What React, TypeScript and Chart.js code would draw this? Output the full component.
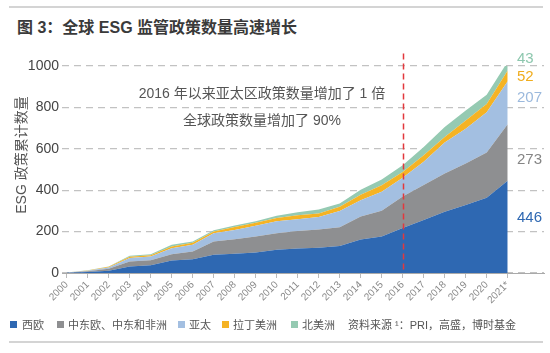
import React, { useEffect, useRef } from 'react';
import { Chart, registerables } from 'chart.js';

Chart.register(...registerables);

const years = [2000, 2001, 2002, 2003, 2004, 2005, 2006, 2007, 2008, 2009, 2010, 2011, 2012, 2013, 2014, 2015, 2016, 2017, 2018, 2019, 2020, 2021];
const tickLabels = ['2000', '2001', '2002', '2003', '2004', '2005', '2006', '2007', '2008', '2009', '2010', '2011', '2012', '2013', '2014', '2015', '2016', '2017', '2018', '2019', '2020', '2021*'];

const westernEurope = [1, 5, 11, 32, 37, 60, 66, 88, 93, 99, 112, 118, 122, 131, 162, 176, 217, 256, 296, 328, 364, 446];
const ceeMea = [1, 3, 10, 24, 24, 31, 38, 64, 70, 77, 80, 85, 88, 90, 111, 125, 153, 169, 185, 201, 218, 273];
const asiaPacific = [0, 3, 6, 16, 19, 29, 32, 40, 45, 52, 58, 57, 60, 79, 79, 91, 90, 112, 149, 168, 195, 207];
const latinAmerica = [0, 1, 3, 6, 6, 8, 10, 8, 14, 15, 16, 19, 18, 20, 26, 32, 28, 32, 27, 40, 40, 52];
const northAmerica = [1, 1, 2, 5, 4, 8, 6, 7, 7, 7, 10, 15, 19, 16, 24, 28, 33, 40, 48, 48, 44, 43];

const seriesNames = ['西欧', '中东欧、中东和非洲', '亚太', '拉丁美洲', '北美洲'];
const seriesColors = ['#2e68b2', '#8e8f91', '#a3bfe1', '#f5b324', '#95cab2'];
const endLabelColors = ['#2e68b2', '#858585', '#9bb9dd', '#f0ad1e', '#8dc7ae'];
const allSeries = [westernEurope, ceeMea, asiaPacific, latinAmerica, northAmerica];

const annotationLines = ['2016 年以来亚太区政策数量增加了 1 倍', '全球政策数量增加了 90%'];
const titleText = '图 3：全球 ESG 监管政策数量高速增长';
const yTitle = 'ESG 政策累计数量';
const sourceText = '资料来源 ¹：PRI，高盛，博时基金';

const FONT = '"Liberation Sans", "Noto Sans CJK SC", sans-serif';

// y-axis value at which each end label is centred
const endLabelAt = [266, 545, 846, 947, 1034];

const overlayPlugin = {
  id: 'overlay',
  afterDatasetsDraw(chart: any) {
    const { ctx, scales, chartArea } = chart;
    const x = scales.x;
    const y = scales.y;
    ctx.save();
    const px = Math.round(x.getPixelForValue(2016)) + 0.5;
    ctx.strokeStyle = '#e2383d';
    ctx.lineWidth = 1.5;
    ctx.setLineDash([6, 4]);
    ctx.beginPath();
    ctx.moveTo(px, y.getPixelForValue(1060));
    ctx.lineTo(px, chartArea.bottom);
    ctx.stroke();
    ctx.setLineDash([]);

    ctx.font = `14px ${FONT}`;
    ctx.fillStyle = '#555';
    ctx.textAlign = 'center';
    ctx.textBaseline = 'middle';
    const cx = x.getPixelForValue(2009.3);
    ctx.fillText(annotationLines[0], cx, y.getPixelForValue(865));
    ctx.fillText(annotationLines[1], cx, y.getPixelForValue(735));

    ctx.font = `15px ${FONT}`;
    ctx.textAlign = 'left';
    allSeries.forEach((s, i) => {
      ctx.fillStyle = endLabelColors[i];
      ctx.fillText(String(s[s.length - 1]), chartArea.right - 27, y.getPixelForValue(endLabelAt[i]));
    });
    ctx.restore();
  },
};

function ChartCanvas() {
  const ref = useRef<HTMLCanvasElement | null>(null);
  useEffect(() => {
    if (!ref.current) return;
    const xMin = 2000 - 4.7 / 21;
    const xMax = xMin + 482 / 21;
    const chart = new Chart(ref.current, {
      type: 'line',
      data: {
        datasets: allSeries.map((s, i) => ({
          label: seriesNames[i],
          data: s.map((v, j) => ({ x: years[j], y: v })),
          backgroundColor: seriesColors[i],
          borderColor: seriesColors[i],
          borderWidth: 0,
          pointRadius: 0,
          tension: 0,
          fill: i === 0 ? 'origin' : '-1',
          clip: false as any,
        })),
      },
      options: {
        animation: false,
        responsive: false,
        maintainAspectRatio: false,
        layout: { padding: { top: 66, right: 6, left: 0, bottom: 0 } },
        plugins: { legend: { display: false }, tooltip: { enabled: false } },
        scales: {
          x: {
            type: 'linear',
            min: xMin,
            max: xMax,
            afterBuildTicks: (s: any) => {
              s.ticks = years.map((v) => ({ value: v }));
            },
            afterFit: (s: any) => {
              s.height = 80;
            },
            ticks: {
              autoSkip: false,
              maxRotation: 45,
              minRotation: 45,
              padding: 1,
              color: '#888',
              font: { size: 10, family: FONT },
              callback: (_v: any, i: number) => tickLabels[i],
            },
            grid: { drawOnChartArea: false, drawTicks: true, tickLength: 5, color: '#bbb' },
            border: { display: true, color: '#aaa', width: 1 },
          },
          y: {
            stacked: true,
            min: 0,
            max: 1000,
            afterFit: (s: any) => {
              s.width = 62;
            },
            ticks: {
              stepSize: 200,
              padding: 3,
              color: '#444',
              font: { size: 14, family: FONT },
              callback: (v: any) => String(v),
            },
            grid: { drawTicks: false, color: '#c2c2c2', lineWidth: 1.2 },
            border: { display: false, dash: [7, 5] },
          },
        },
      } as any,
      plugins: [overlayPlugin],
    });
    return () => chart.destroy();
  }, []);
  return (
    <canvas
      ref={ref}
      width={550}
      height={353}
      style={{ position: 'absolute', left: 0, top: 0, width: 550, height: 353 }}
    />
  );
}

export default function App() {
  const legendItems = [
    { i: 0, sx: 10, tx: 22 },
    { i: 1, sx: 57, tx: 68 },
    { i: 2, sx: 178, tx: 189 },
    { i: 3, sx: 222, tx: 233 },
    { i: 4, sx: 291, tx: 302 },
  ];
  return (
    <div
      style={{
        position: 'absolute',
        left: 0,
        top: 0,
        width: 550,
        height: 353,
        background: '#fff',
        fontFamily: FONT,
        overflow: 'hidden',
      }}
    >
      <div style={{ position: 'absolute', left: 9, top: 6, width: 534, height: 2, background: '#d4d4d4' }} />
      <div
        style={{
          position: 'absolute',
          left: 17,
          top: 20,
          fontSize: 16,
          lineHeight: '16px',
          fontWeight: 'bold',
          color: '#3a3a3a',
          whiteSpace: 'nowrap',
        }}
      >
        {titleText}
      </div>
      <ChartCanvas />
      <div
        style={{
          position: 'absolute',
          left: 20,
          top: 155,
          transform: 'translate(-50%, -50%) rotate(-90deg)',
          fontSize: 14,
          color: '#555',
          whiteSpace: 'nowrap',
        }}
      >
        {yTitle}
      </div>
      {legendItems.map((it) => (
        <React.Fragment key={it.i}>
          <div
            style={{
              position: 'absolute',
              left: it.sx,
              top: 321,
              width: 7,
              height: 7,
              background: seriesColors[it.i],
            }}
          />
          <div
            style={{
              position: 'absolute',
              left: it.tx,
              top: 318,
              fontSize: 11,
              lineHeight: '14px',
              color: '#555',
              whiteSpace: 'nowrap',
            }}
          >
            {seriesNames[it.i]}
          </div>
        </React.Fragment>
      ))}
      <div
        style={{
          position: 'absolute',
          left: 348,
          top: 318,
          fontSize: 11,
          lineHeight: '14px',
          color: '#555',
          whiteSpace: 'nowrap',
        }}
      >
        {sourceText}
      </div>
      <div style={{ position: 'absolute', left: 9, top: 341, width: 534, height: 2, background: '#d4d4d4' }} />
    </div>
  );
}
